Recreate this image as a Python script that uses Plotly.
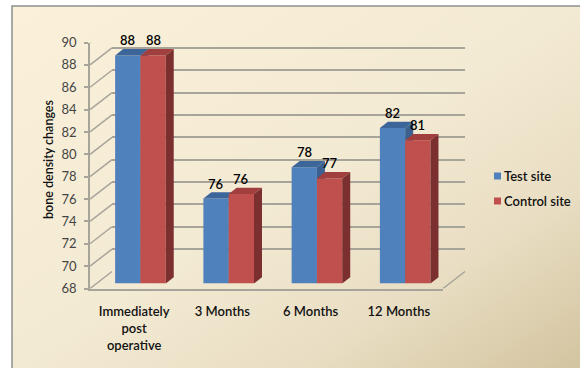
import base64
import plotly.graph_objects as go

# Bone density by visit
categories = ["Immediately<br>post<br>operative", "3 Months", "6 Months", "12 Months"]
test_site = [88.4, 75.6, 78.4, 81.9]
control_site = [88.4, 76.0, 77.4, 80.8]
y_ticks = list(range(68, 91, 2))

W, H = 580, 368
BLUE, BLUE_SIDE, BLUE_TOP = "#4f81bd", "#3a618f", "#3c659a"
RED, RED_SIDE, RED_TOP = "#c0504d", "#7b2f2f", "#a03f3d"
GRID = "#a7a49a"
FONT = "Lato"

# Pixel geometry of the pseudo-3D box
FRONT_L, FRONT_R, FRONT_B, FRONT_T = 90, 443, 288.5, 42.5
WALL_DX, WALL_DY = 22, 17
BAR_DX, BAR_DY = 6.3, 5
PX_PER_UNIT = (FRONT_B - FRONT_T) / (y_ticks[-1] - y_ticks[0])
PX_PER_CAT = (FRONT_R - FRONT_L) / len(categories)
BAR_W = 25.3 / PX_PER_CAT
DEPTH_X = 8 / PX_PER_CAT
DEPTH_Y = 6.3 / PX_PER_UNIT


def xdom(dx=0):
    return [(FRONT_L + dx) / W, (FRONT_R + dx) / W]


def ydom(dy=0):
    return [1 - (FRONT_B - dy) / H, 1 - (FRONT_T - dy) / H]


fig = go.Figure()

# Panel gradient
svg = (
    '<svg xmlns="http://www.w3.org/2000/svg" width="568" height="362" preserveAspectRatio="none">'
    '<defs><linearGradient id="g" x1="0" y1="0" x2="1" y2="1">'
    '<stop offset="0" stop-color="#fbf1da"/><stop offset="0.5" stop-color="#f3ead3"/>'
    '<stop offset="0.75" stop-color="#e9dec3"/><stop offset="1" stop-color="#d3c4a0"/>'
    '</linearGradient></defs><rect width="568" height="362" fill="url(#g)"/></svg>'
)
uri = "data:image/svg+xml;base64," + base64.b64encode(svg.encode()).decode()
fig.add_layout_image(
    source=uri, xref="paper", yref="paper", x=12 / W, y=1 - 6 / H,
    sizex=568 / W, sizey=362 / H, sizing="stretch", xanchor="left", yanchor="top", layer="below",
)

# Invisible trace keeps the back wall subplot alive
fig.add_trace(go.Scatter(x=[0], y=[y_ticks[0]], mode="none", showlegend=False, hoverinfo="skip",
                         xaxis="x", yaxis="y"))
# Front plane carries the category axis
fig.add_trace(go.Scatter(x=categories, y=[y_ticks[0]] * 4, mode="none", showlegend=False,
                         hoverinfo="skip", xaxis="x2", yaxis="y2"))


# Bars are stored as heights above the axis floor
def add_bars(name, values, offset, colors, xa, ya):
    front, side, top = colors
    floor = y_ticks[0]
    idx = list(range(len(values)))
    fig.add_trace(go.Bar(
        x=idx, y=[v - floor for v in values], base=floor, width=BAR_W, offset=offset,
        marker=dict(color=front, line_width=0), name=name, showlegend=False,
        xaxis=xa, yaxis=ya, cliponaxis=False,
    ))
    for i, v in zip(idx, values):
        l, r = i + offset, i + offset + BAR_W
        fig.add_trace(go.Scatter(
            x=[r, r + DEPTH_X, r + DEPTH_X, r, r], y=[floor, floor + DEPTH_Y, v + DEPTH_Y, v, floor],
            mode="lines", fill="toself", fillcolor=side, line_width=0, showlegend=False,
            hoverinfo="skip", xaxis=xa, yaxis=ya, cliponaxis=False,
        ))
        fig.add_trace(go.Scatter(
            x=[l, r, r + DEPTH_X, l + DEPTH_X, l], y=[v, v, v + DEPTH_Y, v + DEPTH_Y, v],
            mode="lines", fill="toself", fillcolor=top, line_width=0, showlegend=False,
            hoverinfo="skip", xaxis=xa, yaxis=ya, cliponaxis=False,
        ))
        fig.add_annotation(
            x=i + offset + BAR_W / 2, y=v, xref=xa, yref=ya, text=f"{v:.0f}", showarrow=False,
            yshift=15, font=dict(family=FONT, size=13, color="#000000", weight=600),
        )


add_bars("Test site", test_site, -BAR_W, (BLUE, BLUE_SIDE, BLUE_TOP), "x3", "y3")
add_bars("Control site", control_site, 0, (RED, RED_SIDE, RED_TOP), "x4", "y4")

shapes = [
    # Panel border
    dict(type="rect", xref="paper", yref="paper", x0=12 / W, x1=1.01, y0=-0.01, y1=1 - 6 / H,
         line=dict(color="#8f8f8f", width=1.5), layer="below"),
]
# Slanted side wall lines running back from each tick
for t in y_ticks:
    shapes.append(dict(type="line", xref="x2 domain", yref="y2", x0=0, x1=WALL_DX / (FRONT_R - FRONT_L),
                       y0=t, y1=t + WALL_DY / PX_PER_UNIT, line=dict(color=GRID, width=1.5), layer="below"))
# Right edge of the floor
shapes.append(dict(type="line", xref="x2 domain", yref="y2", x0=1, x1=1 + WALL_DX / (FRONT_R - FRONT_L),
                   y0=y_ticks[0], y1=y_ticks[0] + WALL_DY / PX_PER_UNIT, line=dict(color=GRID, width=1.5),
                   layer="below"))

# Legend swatches and labels
for name, color, py in (("Test site", BLUE, 176), ("Control site", RED, 201)):
    shapes.append(dict(type="rect", xref="paper", yref="paper", x0=494 / W, x1=501 / W,
                       y0=1 - (py + 3.5) / H, y1=1 - (py - 3.5) / H, fillcolor=color, line_width=0))
    fig.add_annotation(x=504 / W, y=1 - py / H, xref="paper", yref="paper", text=name, showarrow=False,
                       xanchor="left", yanchor="middle", xshift=-2,
                       font=dict(family=FONT, size=13, color="#111111", weight=600))

# Axis title sits to the left of the tick labels
fig.add_annotation(x=49 / W, y=1 - 160 / H, xref="paper", yref="paper", text="bone density changes",
                   showarrow=False, textangle=-90, xanchor="center", yanchor="middle",
                   font=dict(family=FONT, size=12.5, color="#111111", weight=600))

hidden = dict(showgrid=False, zeroline=False, showticklabels=False, ticks="", showline=False, automargin=False)
yrange = [y_ticks[0], y_ticks[-1]]
xrange_num = [-0.5, len(categories) - 0.5]

fig.update_layout(
    width=W, height=H, autosize=False, margin=dict(l=0, r=0, t=0, b=0),
    paper_bgcolor="#ffffff", plot_bgcolor="rgba(0,0,0,0)", barmode="overlay",
    shapes=shapes, showlegend=False,
    xaxis=dict(domain=xdom(WALL_DX), range=[0, 1], anchor="y", **hidden),
    yaxis=dict(domain=ydom(WALL_DY), range=yrange, anchor="x", tickvals=y_ticks, showgrid=True,
               gridcolor=GRID, gridwidth=1.5, zeroline=False, showticklabels=False, ticks="", showline=False,
               automargin=False),
    xaxis2=dict(domain=xdom(), type="category", categoryorder="array", categoryarray=categories,
                range=xrange_num, anchor="y2", showgrid=False, zeroline=False, showline=True,
                linecolor=GRID, linewidth=1.5, ticks="outside", ticklen=10, tickcolor="rgba(0,0,0,0)",
                automargin=False, tickfont=dict(family=FONT, size=13, color="#111111", weight=600)),
    yaxis2=dict(domain=ydom(), range=yrange, anchor="x2", tickvals=y_ticks, showgrid=False, zeroline=False,
                showline=True, linecolor=GRID, linewidth=1.5, ticks="outside", ticklen=4, tickcolor=GRID,
                tickwidth=1.5, ticklabelstandoff=5, automargin=False,
                tickfont=dict(family=FONT, size=13, color="#444444")),
    xaxis3=dict(domain=xdom(BAR_DX), range=xrange_num, anchor="y3", **hidden),
    yaxis3=dict(domain=ydom(BAR_DY), range=yrange, anchor="x3", **hidden),
    xaxis4=dict(domain=xdom(BAR_DX), range=xrange_num, anchor="y4", **hidden),
    yaxis4=dict(domain=ydom(BAR_DY), range=yrange, anchor="x4", **hidden),
)

fig.write_html("out.html")
